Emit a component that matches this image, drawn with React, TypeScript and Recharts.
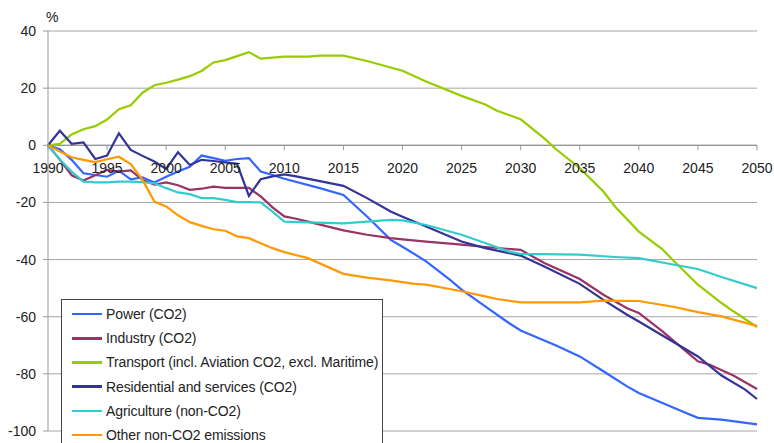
import React from 'react';
import { LineChart, Line, XAxis, YAxis, CartesianGrid, ReferenceLine, Legend } from 'recharts';

// Index, 1990 = 0 (% change)
const power = [
  [1990, 0], [1991, -1.4], [1992, -5.1], [1993, -9.8], [1994, -10.4], [1995, -11], [1996, -8.9],
  [1997, -11.9], [1998, -11.2], [1999, -13], [2000, -11], [2001, -9.2], [2002, -7.5], [2003, -3.6],
  [2004, -4.5], [2005, -5.4], [2006, -4.8], [2007, -4.5], [2008, -9.2], [2009, -10.4], [2010, -11.7],
  [2013, -15], [2015, -17.4], [2017, -24.9], [2019, -33.1], [2020, -35.5], [2022, -40.6], [2024, -47],
  [2025, -50.5], [2027, -56.4], [2029, -62.2], [2030, -64.8], [2032, -68.3], [2033, -70.1], [2035, -73.9],
  [2037, -79.1], [2039, -84.4], [2040, -86.7], [2042, -90.2], [2044, -93.7], [2045, -95.4], [2047, -96],
  [2050, -97.7],
];

const industry = [
  [1990, 0], [1991, -5], [1992, -10.5], [1993, -12.3], [1994, -10.5], [1995, -8.6], [1996, -9.2],
  [1997, -8.8], [1998, -12.1], [1999, -13.8], [2000, -13], [2001, -14], [2002, -15.6], [2003, -15.2],
  [2004, -14.5], [2005, -14.9], [2006, -14.9], [2007, -14.9], [2008, -17.9], [2009, -21.7], [2010, -24.9],
  [2011, -25.7], [2012, -26.7], [2015, -29.8], [2017, -31.3], [2019, -32.5], [2020, -32.9], [2022, -33.7],
  [2025, -34.8], [2027, -35.6], [2030, -36.6], [2032, -41.2], [2035, -46.8], [2037, -52.3], [2039, -57],
  [2040, -58.7], [2042, -65.1], [2044, -72.1], [2045, -75.6], [2046, -76.8], [2048, -80.6], [2050, -85.3],
];

const transport = [
  [1990, 0], [1991, 0.5], [1992, 3.8], [1993, 5.6], [1994, 6.7], [1995, 9], [1996, 12.6], [1997, 14],
  [1998, 18.4], [1999, 21], [2000, 21.9], [2001, 23], [2002, 24.2], [2003, 26], [2004, 29], [2005, 29.8],
  [2006, 31.2], [2007, 32.6], [2008, 30.3], [2010, 31], [2012, 31], [2013, 31.4], [2015, 31.4],
  [2017, 29.5], [2020, 26.1], [2022, 22.3], [2025, 17.3], [2027, 14.3], [2028, 12.1], [2030, 9.1],
  [2032, 2.4], [2033, -1.4], [2035, -8], [2037, -16.2], [2038, -21.5], [2040, -30.2], [2042, -36.4],
  [2043, -40.7], [2044, -44.7], [2045, -48.8], [2046, -52], [2047, -55.2], [2048, -58.1], [2050, -63.6],
];

const residential = [
  [1990, 0], [1991, 5.1], [1992, 0.5], [1993, 1], [1994, -4.8], [1995, -3.6], [1996, 4.2], [1997, -1.6],
  [1998, -3.7], [1999, -5.7], [2000, -8.3], [2001, -2.4], [2002, -6.9], [2003, -5.1], [2004, -5.5],
  [2005, -6], [2006, -6.5], [2007, -17.7], [2008, -11.9], [2009, -10.9], [2010, -10.2], [2011, -10.9],
  [2015, -14.2], [2017, -18.5], [2019, -23.2], [2020, -25], [2022, -28.4], [2025, -33.7], [2027, -36],
  [2030, -38.6], [2032, -42.4], [2035, -48.5], [2037, -54.1], [2039, -59.3], [2040, -61.7], [2042, -66.6],
  [2045, -73.9], [2047, -80.6], [2049, -85.5], [2050, -88.8],
];

const agriculture = [
  [1990, 0], [1991, -5], [1992, -9.2], [1993, -12.7], [1994, -13], [1995, -13], [1996, -12.7],
  [1997, -12.7], [1998, -12.9], [1999, -13.3], [2000, -15], [2001, -16.5], [2002, -17.1], [2003, -18.5],
  [2004, -18.5], [2005, -19.1], [2006, -19.9], [2007, -19.9], [2008, -20], [2009, -23.2], [2010, -26.7],
  [2012, -27], [2015, -27.3], [2017, -26.7], [2019, -26.1], [2020, -26.3], [2022, -27.9], [2025, -31.3],
  [2027, -34.2], [2029, -37.2], [2030, -38], [2035, -38.3], [2038, -39.1], [2040, -39.5], [2043, -41.8],
  [2045, -43.3], [2047, -46.1], [2050, -50],
];

const otherNonCo2 = [
  [1990, 0], [1991, -2.2], [1992, -4.2], [1993, -5.1], [1994, -5.9], [1995, -4.9], [1996, -4],
  [1997, -6.6], [1998, -12.1], [1999, -19.7], [2000, -21.4], [2001, -24.5], [2002, -26.9], [2003, -28.2],
  [2004, -29.4], [2005, -29.9], [2006, -31.9], [2007, -32.5], [2008, -34.3], [2009, -36], [2010, -37.4],
  [2012, -39.5], [2015, -45], [2017, -46.3], [2019, -47.3], [2021, -48.5], [2022, -48.8], [2025, -51.1],
  [2027, -52.9], [2028, -53.8], [2030, -55], [2035, -55], [2037, -54.4], [2040, -54.5], [2043, -56.6],
  [2045, -58.4], [2047, -59.9], [2048, -61], [2050, -63.2],
];

const yearTicks = [1990, 1995, 2000, 2005, 2010, 2015, 2020, 2025, 2030, 2035, 2040, 2045, 2050];
const valueTicks = [-100, -80, -60, -40, -20, 0, 20, 40];

const series = [
  { name: 'Power (CO2)', points: power, color: '#3366FF' },
  { name: 'Industry (CO2)', points: industry, color: '#993366' },
  { name: 'Transport (incl. Aviation CO2, excl. Maritime)', points: transport, color: '#99CC00' },
  { name: 'Residential and services (CO2)', points: residential, color: '#333399' },
  { name: 'Agriculture (non-CO2)', points: agriculture, color: '#33CCCC' },
  { name: 'Other non-CO2 emissions', points: otherNonCo2, color: '#FF9900' },
];

const W = 774;
const H = 443;
const X_AXIS_H = 12;
const margin = { top: 31, right: 17, bottom: 0, left: 0 };
const yMin = -100;
const yMax = 40;
const FONT = '"Liberation Sans", Arial, sans-serif';

// the year axis is drawn on the zero line, not under the plot
const plotH = H - margin.top - margin.bottom - X_AXIS_H;
const zeroY = margin.top + (plotH * yMax) / (yMax - yMin);

const YearTick = (props: any) => {
  const { x, payload } = props;
  return (
    <g>
      <line x1={x} x2={x} y1={zeroY} y2={zeroY + 5} stroke="#999" />
      <text x={x} y={zeroY + 27.5} textAnchor="middle" fontSize={14} fill="#222" fontFamily={FONT}>
        {payload.value}
      </text>
    </g>
  );
};

const LegendBox = () => (
  <div
    style={{
      width: 322,
      boxSizing: 'border-box',
      border: '1px solid #444',
      background: '#fff',
      padding: '2px 0 6px 0',
      fontFamily: FONT,
      fontSize: 14,
      letterSpacing: -0.1,
      color: '#222',
    }}
  >
    {series.map((s) => (
      <div key={s.name} style={{ height: 24.2, display: 'flex', alignItems: 'center' }}>
        <div style={{ marginLeft: 10, width: 30, height: 2.5, background: s.color }} />
        <span style={{ marginLeft: 4, whiteSpace: 'nowrap' }}>{s.name}</span>
      </div>
    ))}
  </div>
);

export default function App() {
  return (
    <div style={{ position: 'absolute', left: 0, top: 0, width: W, height: H, overflow: 'hidden', background: '#fff' }}>
      <div style={{ position: 'absolute', left: 46, top: 9, fontFamily: FONT, fontSize: 14, color: '#222' }}>%</div>
      <LineChart width={W} height={H} margin={margin}>
        <CartesianGrid vertical={false} stroke="#a6a6a6" />
        <XAxis
          dataKey="year"
          type="number"
          domain={[1990, 2050]}
          ticks={yearTicks}
          interval={0}
          height={X_AXIS_H}
          axisLine={false}
          tickLine={false}
          tick={YearTick}
        />
        <YAxis
          type="number"
          domain={[yMin, yMax]}
          ticks={valueTicks}
          width={48}
          stroke="#999"
          tickSize={5}
          tickMargin={7}
          tick={{ fontSize: 14, fill: '#222', fontFamily: FONT }}
        />
        <ReferenceLine y={0} stroke="#8c8c8c" />
        <Legend
          layout="horizontal"
          verticalAlign="middle"
          align="center"
          wrapperStyle={{ left: 61, top: 299, width: 322 }}
          content={<LegendBox />}
        />
        {series.map((s) => (
          <Line
            key={s.name}
            name={s.name}
            data={s.points.map(([year, value]) => ({ year, value }))}
            dataKey="value"
            stroke={s.color}
            strokeWidth={2.2}
            dot={false}
            activeDot={false}
            isAnimationActive={false}
          />
        ))}
      </LineChart>
    </div>
  );
}
